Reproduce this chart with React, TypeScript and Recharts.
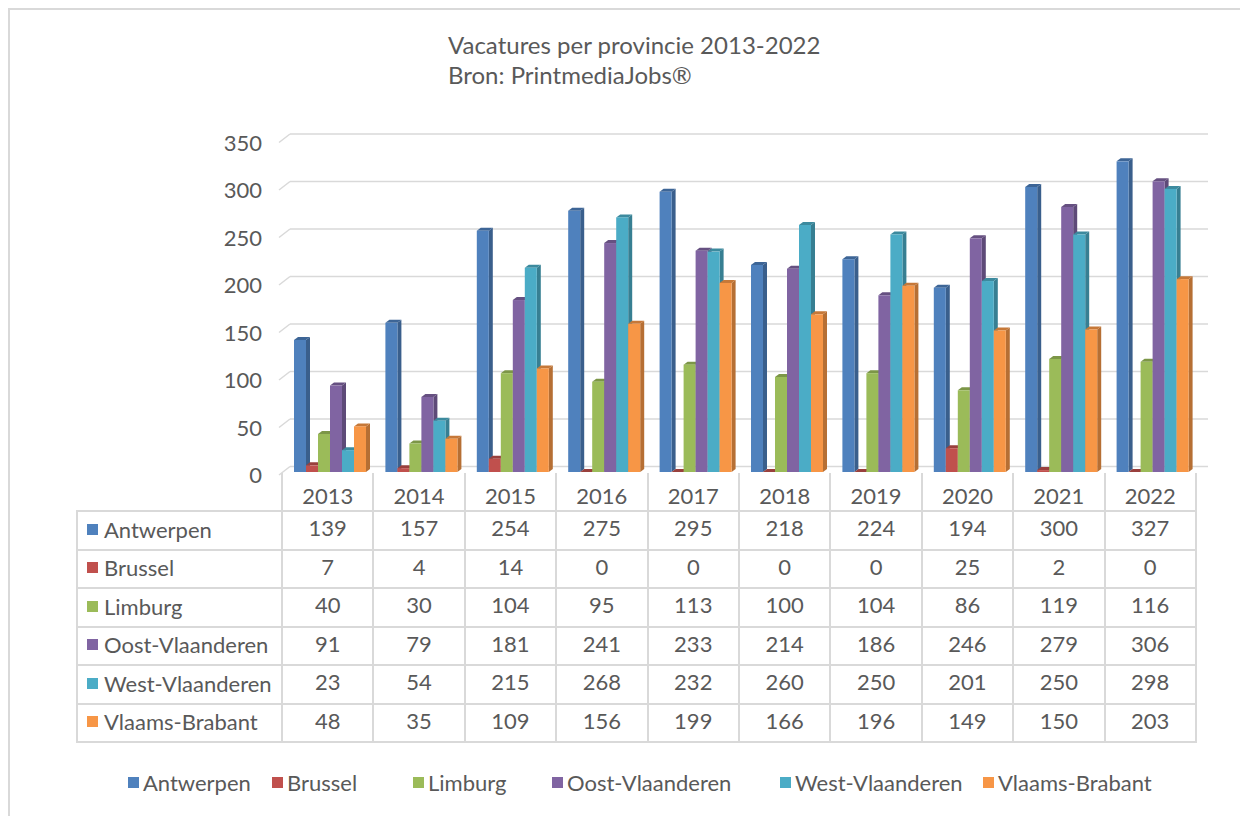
import React from 'react';
import { BarChart, Bar, XAxis, YAxis, CartesianGrid } from 'recharts';

const years = ['2013', '2014', '2015', '2016', '2017', '2018', '2019', '2020', '2021', '2022'];
const antwerpen = [139, 157, 254, 275, 295, 218, 224, 194, 300, 327];
const brussel = [7, 4, 14, 0, 0, 0, 0, 25, 2, 0];
const limburg = [40, 30, 104, 95, 113, 100, 104, 86, 119, 116];
const oostVlaanderen = [91, 79, 181, 241, 233, 214, 186, 246, 279, 306];
const westVlaanderen = [23, 54, 215, 268, 232, 260, 250, 201, 250, 298];
const vlaamsBrabant = [48, 35, 109, 156, 199, 166, 196, 149, 150, 203];
const yTicks = [0, 50, 100, 150, 200, 250, 300, 350];

const series = [
  { key: 'antwerpen', name: 'Antwerpen', values: antwerpen, color: '#4F81BD', side: '#3A5F8C', top: '#3D6596' },
  { key: 'brussel', name: 'Brussel', values: brussel, color: '#C0504D', side: '#8E3B39', top: '#99403D' },
  { key: 'limburg', name: 'Limburg', values: limburg, color: '#9BBB59', side: '#728A42', top: '#7C9647' },
  { key: 'oost', name: 'Oost-Vlaanderen', values: oostVlaanderen, color: '#8064A2', side: '#5E4A78', top: '#665081' },
  { key: 'west', name: 'West-Vlaanderen', values: westVlaanderen, color: '#4BACC6', side: '#377F92', top: '#3C8A9E' },
  { key: 'vlaams', name: 'Vlaams-Brabant', values: vlaamsBrabant, color: '#F79646', side: '#B66F34', top: '#C67838' },
];

// legend item positions (wrapper coords), as laid out in the original
const legendX = [120, 264, 405, 544, 772, 975];

const data = years.map((year, i) => {
  const row: Record<string, string | number> = { year };
  series.forEach((s) => {
    row[s.key] = s.values[i];
  });
  return row;
});

const FONT = 'Lato, "Open Sans", sans-serif';
const TEXT = '#595959';
const GRID = '#d9d9d9';
const DX = 4;
const DY = 3;

function Bar3D(props: any) {
  const { x, y, width, height, fill, side, top } = props;
  if (x == null || y == null) return null;
  const h = Math.max(0, height || 0);
  return (
    <g>
      <polygon
        points={`${x + width},${y} ${x + width + DX},${y - DY} ${x + width + DX},${y + h - DY} ${x + width},${y + h}`}
        fill={side}
      />
      <polygon
        points={`${x},${y} ${x + DX},${y - DY} ${x + width + DX},${y - DY} ${x + width},${y}`}
        fill={top}
      />
      <rect x={x} y={y} width={width} height={h} fill={fill} />
    </g>
  );
}

function YTick(props: any) {
  const { y, payload } = props;
  return (
    <text x={254} y={y + 2.5} textAnchor="end" dominantBaseline="central" fill={TEXT} fontSize={22} fontFamily={FONT}>
      {payload.value}
    </text>
  );
}

function GridLine(props: any) {
  const { x1, x2, y1, index } = props;
  return (
    <g key={`grid-${index}`}>
      <line x1={x1 - 5} y1={y1 + 3} x2={x1 + 6} y2={y1 - 5.5} stroke={GRID} strokeWidth={1.5} />
      <line x1={x1 + 6} y1={y1 - 5.5} x2={x2 + 10} y2={y1 - 5.5} stroke={GRID} strokeWidth={1.5} />
    </g>
  );
}

const cellBorder = `2px solid ${GRID}`;

function DataTable() {
  return (
    <table
      style={{
        position: 'absolute',
        left: 68,
        top: 465,
        borderCollapse: 'collapse',
        tableLayout: 'fixed',
        fontFamily: FONT,
        fontSize: 22,
        color: TEXT,
      }}
    >
      <colgroup>
        <col style={{ width: 205 }} />
        {years.map((y) => (
          <col key={y} style={{ width: 91.4 }} />
        ))}
      </colgroup>
      <tbody>
        <tr style={{ height: 38 }}>
          <td style={{ padding: 0, border: 'none' }} />
          {years.map((y) => (
            <td
              key={y}
              style={{
                padding: '8px 0 0 0',
                textAlign: 'center',
                borderLeft: cellBorder,
                borderRight: cellBorder,
                borderTop: 'none',
              }}
            >
              {y}
            </td>
          ))}
        </tr>
        {series.map((s) => (
          <tr key={s.key} style={{ height: 38.5 }}>
            <td style={{ padding: '0 0 5px 0', border: cellBorder, whiteSpace: 'nowrap' }}>
              <span
                style={{
                  display: 'inline-block',
                  width: 11,
                  height: 11,
                  background: s.color,
                  marginLeft: 9,
                  marginRight: 6,
                  verticalAlign: 'middle',
                }}
              />
              <span style={{ verticalAlign: 'middle' }}>{s.name}</span>
            </td>
            {s.values.map((v, i) => (
              <td key={i} style={{ padding: '0 0 5px 0', border: cellBorder, textAlign: 'center' }}>
                {v}
              </td>
            ))}
          </tr>
        ))}
      </tbody>
    </table>
  );
}

function LegendRow() {
  return (
    <div style={{ position: 'absolute', left: 0, top: 760, width: 1232, height: 28 }}>
      {series.map((s, i) => (
        <div
          key={s.key}
          style={{
            position: 'absolute',
            left: legendX[i],
            top: 0,
            height: 28,
            display: 'flex',
            alignItems: 'center',
            fontFamily: FONT,
            fontSize: 22,
            color: TEXT,
            whiteSpace: 'nowrap',
          }}
        >
          <span style={{ display: 'inline-block', width: 11, height: 11, background: s.color, marginRight: 4 }} />
          <span>{s.name}</span>
        </div>
      ))}
    </div>
  );
}

export default function App() {
  return (
    <div style={{ position: 'relative', width: 1240, height: 808, background: '#fff' }}>
      <div
        style={{
          position: 'absolute',
          left: 0,
          top: 0,
          width: 1240,
          height: 808,
          borderLeft: `2px solid ${GRID}`,
          borderTop: `2px solid ${GRID}`,
          boxSizing: 'border-box',
        }}
      />
      <div
        style={{
          position: 'absolute',
          left: 440,
          top: 22,
          fontFamily: FONT,
          fontSize: 24,
          lineHeight: '30px',
          color: TEXT,
        }}
      >
        <div>Vacatures per provincie 2013-2022</div>
        <div>Bron: PrintmediaJobs®</div>
      </div>
      <div style={{ position: 'absolute', left: 0, top: 0 }}>
        <BarChart
          width={1232}
          height={500}
          data={data}
          margin={{ top: 131.5, right: 42, bottom: 36, left: 216 }}
          barGap={0}
        >
          <CartesianGrid vertical={false} horizontal={(p: any) => <GridLine {...p} />} />
          <XAxis dataKey="year" hide />
          <YAxis
            width={60}
            domain={[0, 350]}
            ticks={yTicks}
            interval={0}
            axisLine={false}
            tickLine={false}
            tick={<YTick />}
          />
          {series.map((s) => (
            <Bar
              key={s.key}
              dataKey={s.key}
              name={s.name}
              fill={s.color}
              barSize={12}
              isAnimationActive={false}
              shape={(p: any) => <Bar3D {...p} side={s.side} top={s.top} />}
            />
          ))}
        </BarChart>
      </div>
      <DataTable />
      <LegendRow />
    </div>
  );
}
